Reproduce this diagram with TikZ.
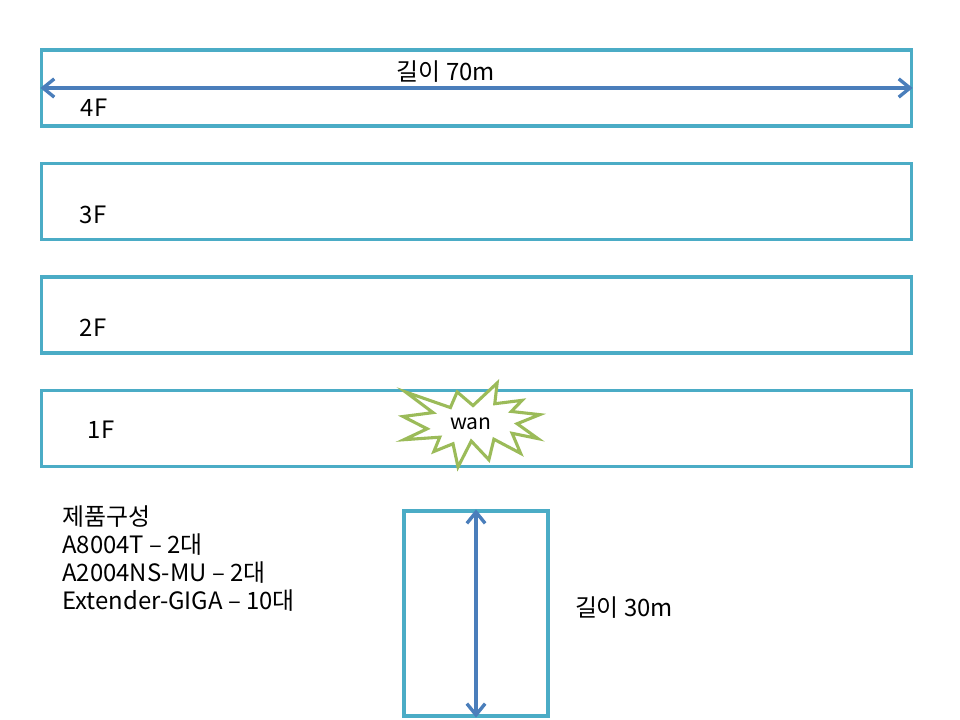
\documentclass[tikz,border=0pt]{standalone}
\usepackage{fontspec}
\setmainfont{Noto Sans CJK KR}
\usetikzlibrary{arrows.meta}
\definecolor{floorline}{RGB}{75,172,198}
\definecolor{arrowblue}{RGB}{74,126,187}
\definecolor{burstgreen}{RGB}{155,187,89}

\begin{document}
\begin{tikzpicture}[
		x=0.025cm, y=-0.025cm,
		every node/.style={
			font=\fontsize{17}{20}\selectfont
		},
		floorbox/.style={
			rectangle,
			draw=floorline,
			line width=2.2pt,
			minimum width=21.725cm,
			minimum height=1.9cm
		},
		measure/.style={
			draw=arrowblue,
			line width=2.4pt,
			{Straight Barb[length=8pt,width=13pt]}-{Straight Barb[length=8pt,width=13pt]}
		}]

		\useasboundingbox (0,0) rectangle (960,720);

		\node[floorbox] at (476.5,88) (f4) {};
		\node[floorbox] at (476.5,201.5) (f3) {};
		\node[floorbox] at (476.5,315) (f2) {};
		\node[floorbox] at (476.5,428.5) (f1) {};

		\node[rectangle,
			draw=floorline,
			line width=2.2pt,
			minimum width=3.6cm,
			minimum height=5.125cm] at (476,613.5) (shaft) {};

		\draw[measure] (f4.west) -- (f4.east);
		\draw[measure] (shaft.north) -- (shaft.south);

		%labels
		\node at (446,72) (len70) {길이 70m};
		\node at (624,608) (len30) {길이 30m};
		\node at (94,108) (l4) {4F};
		\node at (93,215) (l3) {3F};
		\node at (93,328) (l2) {2F};
		\node at (101,430) (l1) {1F};

		%wan burst
		\begin{scope}[shift={(403,383)}, x=0.0162cm, y=-0.00972cm]
			\draw[burstgreen, line width=2.2pt, fill=white, line join=miter]
				(108,58) -- (145.22,0) -- (141.55,53.25) -- (183.8,44.57)
				-- (167.02,73.15) -- (210.97,81.37) -- (176.07,104.75)
				-- (208,142.9) -- (168.37,129.42) -- (181.45,180.95)
				-- (140.2,144.57) -- (132.47,197.37) -- (105.32,149.35)
				-- (84.85,216) -- (77.15,156.27) -- (47.62,176.17)
				-- (56.67,139.37) -- (1.35,145.87) -- (37.22,117.75)
				-- (0,86.15) -- (46.27,76.17) -- (3.7,22.95)
				-- (73.12,63.2) -- (83.52,22.95) -- cycle;
		\end{scope}
		\node[font=\fontsize{15}{17}\selectfont] at (471,424) (wan) {wan};

		\node[anchor=north west, align=left, inner sep=0pt] at (62,505) (parts) {제품구성\\
			A8004T -- 2대\\
			A2004NS-MU -- 2대\\
			Extender-GIGA -- 10대};

	\end{tikzpicture}
\end{document}
